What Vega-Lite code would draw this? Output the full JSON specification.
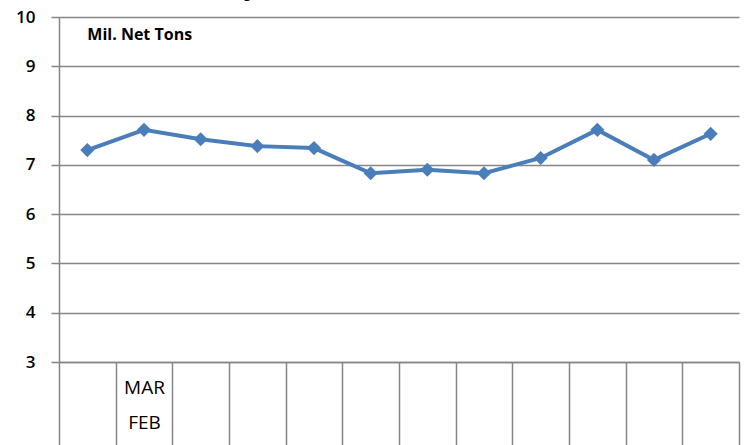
{
  "$schema": "https://vega.github.io/schema/vega-lite/v6.json",
  "width": 680,
  "height": 345,
  "autosize": {"type": "none"},
  "padding": {"left": 59, "top": 17, "right": 7, "bottom": 83},
  "background": "white",
  "title": {
    "text": "Monthly Raw Steel Production",
    "font": "Liberation Serif",
    "fontSize": 35,
    "fontWeight": "bold",
    "color": "#000000",
    "anchor": "start",
    "frame": "group",
    "baseline": "alphabetic",
    "offset": 7,
    "dx": 74,
    "dy": 27
  },
  "config": {
    "view": {"stroke": null},
    "font": "Open Sans"
  },
  "data": {
    "values": [
      {"month": "JAN", "tons": 7.30},
      {"month": "FEB", "tons": 7.71},
      {"month": "MAR", "tons": 7.52},
      {"month": "APR", "tons": 7.38},
      {"month": "MAY", "tons": 7.34},
      {"month": "JUN", "tons": 6.83},
      {"month": "JUL", "tons": 6.90},
      {"month": "AUG", "tons": 6.83},
      {"month": "SEP", "tons": 7.14},
      {"month": "OCT", "tons": 7.71},
      {"month": "NOV", "tons": 7.10},
      {"month": "DEC", "tons": 7.63}
    ]
  },
  "encoding": {
    "x": {
      "field": "month",
      "type": "nominal",
      "sort": null,
      "scale": {"paddingInner": 0, "paddingOuter": 0},
      "axis": {
        "title": null,
        "orient": "bottom",
        "labelAngle": 0,
        "labelExpr": "datum.label == 'FEB' ? ['MAR', 'FEB'] : ''",
        "labelFont": "Open Sans",
        "labelFontSize": 19,
        "labelColor": "#000000",
        "labelBaseline": "middle",
        "labelLineHeight": 35,
        "labelPadding": -58,
        "tickBand": "extent",
        "tickSize": 83,
        "tickColor": "#868686",
        "tickWidth": 1.5,
        "domainColor": "#868686",
        "domainWidth": 1.5,
        "grid": false,
        "labelOverlap": false
      }
    },
    "y": {
      "field": "tons",
      "type": "quantitative",
      "scale": {"domain": [3, 10], "nice": false, "zero": false},
      "axis": {
        "title": null,
        "values": [3, 4, 5, 6, 7, 8, 9, 10],
        "labelFont": "Open Sans",
        "labelFontSize": 17,
        "labelFontWeight": 600,
        "labelColor": "#000000",
        "labelPadding": 16,
        "tickSize": 8,
        "tickColor": "#868686",
        "tickWidth": 1.5,
        "domainColor": "#868686",
        "domainWidth": 1.5,
        "grid": true,
        "gridColor": "#868686",
        "gridWidth": 1.5,
        "gridOpacity": 1
      }
    }
  },
  "layer": [
    {
      "mark": {"type": "line", "color": "#4A7EBB", "strokeWidth": 4}
    },
    {
      "mark": {"type": "point", "shape": "diamond", "filled": true, "color": "#4A7EBB", "size": 200, "opacity": 1}
    },
    {
      "data": {"values": [{"month": "JAN", "tons": 9.63, "label": "Mil. Net Tons"}]},
      "mark": {"type": "text", "align": "left", "baseline": "middle", "dx": 0, "font": "Open Sans", "fontSize": 16, "fontWeight": "bold", "color": "#000000"},
      "encoding": {"text": {"field": "label"}}
    }
  ]
}
